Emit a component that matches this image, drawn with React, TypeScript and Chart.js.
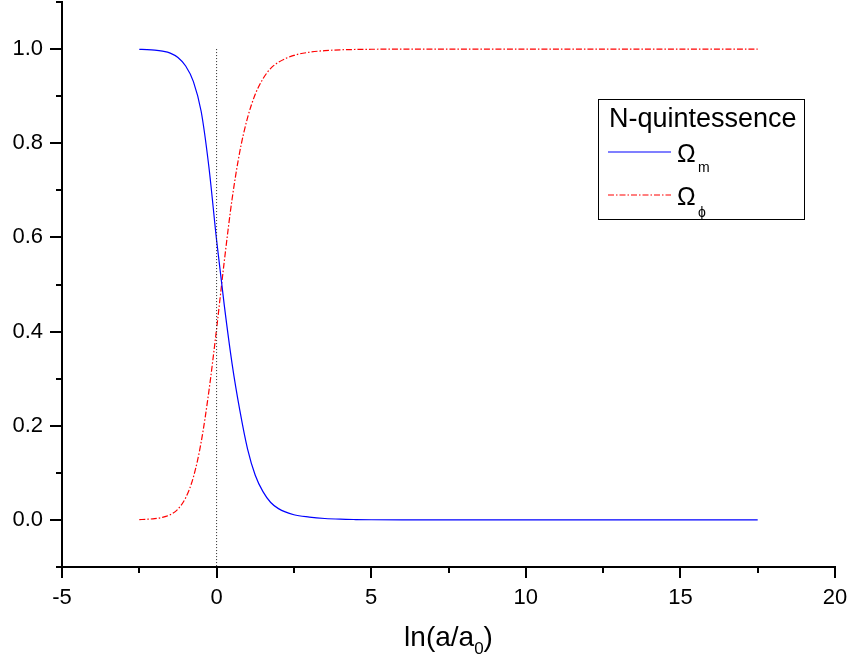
import React, { useEffect, useRef } from "react";
import { Chart, registerables } from "chart.js";
Chart.register(...registerables);

// ln(a/a0) sample positions
const lnA = [-2.5, -2.25, -2, -1.75, -1.5, -1.25, -1, -0.75, -0.5, -0.25, 0, 0.25, 0.5, 0.75, 1, 1.25, 1.5, 1.75, 2, 2.5, 3, 3.5, 4, 4.5, 5, 6, 8, 10, 12.5, 15, 17.5];
// Omega_m (matter) values
const omegaM = [0.9994, 0.9989, 0.9978, 0.9955, 0.9914, 0.982, 0.964, 0.931, 0.868, 0.75, 0.594, 0.455, 0.332, 0.233, 0.151, 0.095, 0.06, 0.037, 0.024, 0.011, 0.006, 0.003, 0.0015, 0.0008, 0.0004, 0.0001, 0, 0, 0, 0, 0];
// Omega_phi (quintessence) values
const omegaPhi = [0.0007, 0.0014, 0.0027, 0.0055, 0.011, 0.023, 0.047, 0.091, 0.165, 0.273, 0.406, 0.55, 0.681, 0.782, 0.854, 0.904, 0.937, 0.959, 0.972, 0.9866, 0.9933, 0.9967, 0.9984, 0.9992, 0.9996, 0.9999, 1, 1, 1, 1, 1];
// vertical dotted marker at ln(a/a0)=0
const markerX = [0, 0];
const markerY = [1.0, -0.1];

const xMajorTicks = [-5, 0, 5, 10, 15, 20];
const xMinorTicks = [-2.5, 2.5, 7.5, 12.5, 17.5];
const yMajorTicks = [0, 0.2, 0.4, 0.6, 0.8, 1.0];
const yMinorTicks = [-0.1, 0.1, 0.3, 0.5, 0.7, 0.9, 1.1];

const legendTitle = "N-quintessence";
const xTitleMain = "ln(a/a";
const xTitleSub = "0";
const xTitleEnd = ")";

const FONT = "'Liberation Sans', Arial, sans-serif";

const minorTicksPlugin = {
  id: "minorTicks",
  afterDraw(chart: any) {
    const ctx = chart.ctx;
    const xs = chart.scales.x;
    const ys = chart.scales.y;
    const area = chart.chartArea;
    ctx.save();
    ctx.strokeStyle = "#000";
    ctx.lineWidth = 2;
    ctx.beginPath();
    xMinorTicks.forEach((v) => {
      const p = Math.round(xs.getPixelForValue(v));
      ctx.moveTo(p, area.bottom);
      ctx.lineTo(p, area.bottom + 6);
    });
    yMinorTicks.forEach((v) => {
      const p = Math.round(ys.getPixelForValue(v));
      ctx.moveTo(area.left, p);
      ctx.lineTo(area.left - 6, p);
    });
    ctx.stroke();
    ctx.restore();
  },
};

const annotationsPlugin = {
  id: "annotations",
  afterDraw(chart: any) {
    const ctx = chart.ctx;
    const area = chart.chartArea;
    ctx.save();
    // x-axis title with subscript
    ctx.fillStyle = "#000";
    ctx.textBaseline = "alphabetic";
    ctx.textAlign = "left";
    const big = `28px ${FONT}`;
    const small = `17px ${FONT}`;
    ctx.font = big;
    const w1 = ctx.measureText(xTitleMain).width;
    const w3 = ctx.measureText(xTitleEnd).width;
    ctx.font = small;
    const w2 = ctx.measureText(xTitleSub).width;
    const total = w1 + w2 + w3;
    const cx = (area.left + area.right) / 2;
    let x = cx - total / 2;
    const base = 646;
    ctx.font = big;
    ctx.fillText(xTitleMain, x, base);
    x += w1;
    ctx.font = small;
    ctx.fillText(xTitleSub, x, base + 8);
    x += w2;
    ctx.font = big;
    ctx.fillText(xTitleEnd, x, base);

    // legend box
    const bx = 598.5, by = 99.5, bw = 206, bh = 120;
    ctx.strokeStyle = "#000";
    ctx.lineWidth = 1;
    ctx.strokeRect(bx, by, bw, bh);
    ctx.font = `27px ${FONT}`;
    ctx.fillText(legendTitle, 609, 127);
    // blue sample
    ctx.strokeStyle = "#0000ff";
    ctx.lineWidth = 1.2;
    ctx.beginPath();
    ctx.moveTo(608, 152);
    ctx.lineTo(671, 152);
    ctx.stroke();
    // red sample
    ctx.strokeStyle = "#ff0000";
    ctx.setLineDash([6, 2, 1.5, 2]);
    ctx.beginPath();
    ctx.moveTo(608, 195);
    ctx.lineTo(671, 195);
    ctx.stroke();
    ctx.setLineDash([]);
    ctx.fillStyle = "#000";
    ctx.font = `25px ${FONT}`;
    ctx.fillText("Ω", 677, 162);
    ctx.fillText("Ω", 677, 205);
    ctx.font = `14px ${FONT}`;
    ctx.fillText("m", 698, 172);
    ctx.fillText("ϕ", 698, 217);
    ctx.restore();
  },
};

const zeroPadding = (s: any) => {
  s.paddingTop = 0;
  s.paddingBottom = 0;
  s.paddingLeft = 0;
  s.paddingRight = 0;
};

export default function App() {
  const ref = useRef<HTMLCanvasElement | null>(null);
  useEffect(() => {
    if (!ref.current) return;
    const chart = new Chart(ref.current, {
      type: "line",
      data: {
        datasets: [
          {
            label: "marker",
            data: markerX.map((x, i) => ({ x, y: markerY[i] })),
            borderColor: "#222",
            borderWidth: 1,
            borderDash: [1, 2],
            pointRadius: 0,
            fill: false,
          },
          {
            label: "Ωm",
            data: lnA.map((x, i) => ({ x, y: omegaM[i] })),
            borderColor: "#0000ff",
            borderWidth: 1.2,
            pointRadius: 0,
            cubicInterpolationMode: "monotone",
            fill: false,
          },
          {
            label: "Ωϕ",
            data: lnA.map((x, i) => ({ x, y: omegaPhi[i] })),
            borderColor: "#ff0000",
            borderWidth: 1.2,
            borderDash: [6, 2, 1.5, 2],
            pointRadius: 0,
            cubicInterpolationMode: "monotone",
            fill: false,
          },
        ],
      },
      options: {
        responsive: false,
        animation: false,
        devicePixelRatio: 1,
        layout: { padding: { top: 2, right: 14, left: 0, bottom: 0 } },
        plugins: { legend: { display: false }, tooltip: { enabled: false } },
        scales: {
          x: {
            type: "linear",
            min: -5,
            max: 20,
            afterBuildTicks: (s: any) => {
              s.ticks = xMajorTicks.map((v) => ({ value: v }));
            },
            afterFit: (s: any) => {
              s.height = 98;
              zeroPadding(s);
            },
            border: { display: true, color: "#000", width: 2 },
            grid: { display: true, drawOnChartArea: false, drawTicks: true, tickLength: 11, color: "#000", lineWidth: 2 },
            ticks: {
              color: "#000",
              font: { family: FONT, size: 22 },
              padding: 7,
              maxRotation: 0,
              autoSkip: false,
              callback: (v: any) => String(v),
            },
          },
          y: {
            type: "linear",
            min: -0.1,
            max: 1.1,
            afterBuildTicks: (s: any) => {
              s.ticks = yMajorTicks.map((v) => ({ value: v }));
            },
            afterFit: (s: any) => {
              s.width = 62;
              zeroPadding(s);
            },
            border: { display: true, color: "#000", width: 2 },
            grid: { display: true, drawOnChartArea: false, drawTicks: true, tickLength: 12, color: "#000", lineWidth: 2 },
            ticks: {
              color: "#000",
              font: { family: FONT, size: 22 },
              padding: 7,
              autoSkip: false,
              callback: (v: any) => Number(v).toFixed(1),
            },
          },
        },
      },
      plugins: [minorTicksPlugin, annotationsPlugin],
    });
    return () => chart.destroy();
  }, []);
  return (
    <div style={{ position: "fixed", left: 0, top: 0, width: 849, height: 665, background: "#fff" }}>
      <canvas ref={ref} width={849} height={665} style={{ width: 849, height: 665, display: "block" }} />
    </div>
  );
}
